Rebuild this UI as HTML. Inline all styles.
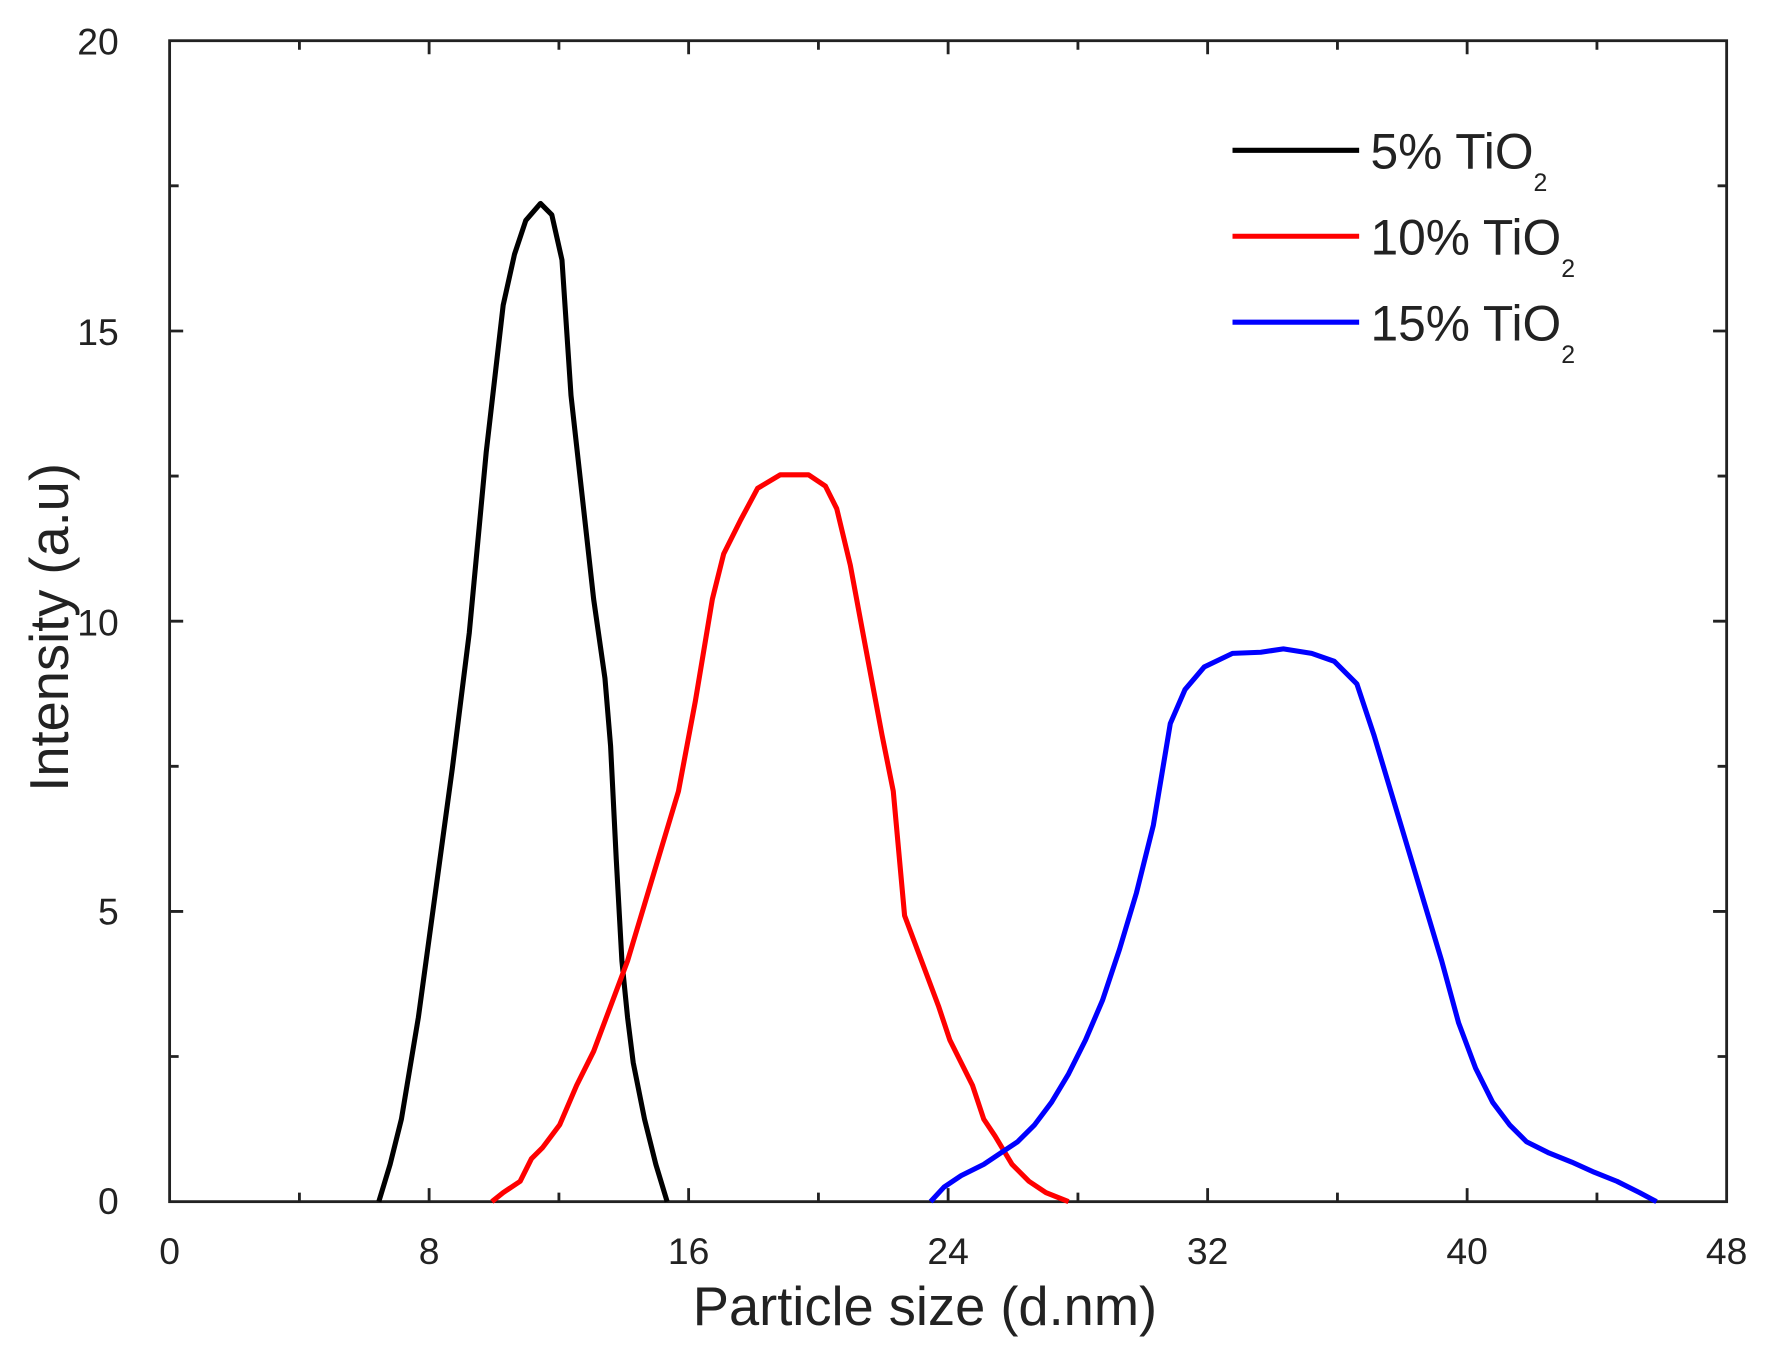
<!DOCTYPE html>
<html><head><meta charset="utf-8"><style>html,body{margin:0;padding:0;background:#fff}svg{display:block}</style></head>
<body>
<svg width="1773" height="1352" viewBox="0 0 1568 1196" preserveAspectRatio="none" xmlns="http://www.w3.org/2000/svg" font-family="Liberation Sans, sans-serif">
<rect width="1568" height="1196" fill="#fff"/>
<g stroke="#222" stroke-width="2.5" fill="none">
<rect x="150" y="36" width="1377" height="1027"/>
<path d="M264.8,1063v-8M379.5,1063v-12M494.3,1063v-8M609,1063v-12M723.8,1063v-8M838.5,1063v-12M953.3,1063v-8M1068,1063v-12M1182.8,1063v-8M1297.5,1063v-12M1412.3,1063v-8
M264.8,36v8M379.5,36v12M494.3,36v8M609,36v12M723.8,36v8M838.5,36v12M953.3,36v8M1068,36v12M1182.8,36v8M1297.5,36v12M1412.3,36v8
M150,934.6h8M150,806.3h12M150,677.9h8M150,549.5h12M150,421.1h8M150,292.8h12M150,164.4h8
M1527,934.6h-8M1527,806.3h-12M1527,677.9h-8M1527,549.5h-12M1527,421.1h-8M1527,292.8h-12M1527,164.4h-8"/>
</g>
<g font-size="33" fill="#222">
<g text-anchor="end"><text x="105" y="1074">0</text><text x="105" y="818">5</text><text x="105" y="562">10</text><text x="105" y="305">15</text><text x="105" y="48">20</text></g>
<g text-anchor="middle"><text x="150" y="1118">0</text><text x="379.5" y="1118">8</text><text x="609" y="1118">16</text><text x="838.5" y="1118">24</text><text x="1068" y="1118">32</text><text x="1297.5" y="1118">40</text><text x="1527" y="1118">48</text></g>
</g>
<text x="818" y="1172" font-size="48" text-anchor="middle" fill="#222">Particle size (d.nm)</text>
<text transform="translate(60,555) rotate(-90)" font-size="48" text-anchor="middle" fill="#222">Intensity (a.u)</text>
<g fill="none" stroke-width="4.5" stroke-linejoin="round">
<polyline stroke="#000" points="335,1063 345,1030 355,990 370,900 385,790 400,680 415,560 430,400 445,270 455,225 465,195 478,180 488,190 497,230 505,350 515,440 525,530 535,600 540,660 545,760 550,850 555,900 560,940 570,990 580,1030 590,1063"/>
<polyline stroke="#f00" points="435,1063 445,1055 460,1045 470,1025 480,1015 495,995 510,960 525,930 540,890 555,850 570,800 585,750 600,700 615,620 630,530 640,490 655,460 670,432 690,420 715,420 730,430 740,450 752,500 765,570 780,650 790,700 800,810 815,850 830,890 840,920 850,940 860,960 870,990 880,1005 895,1030 910,1045 925,1055 945,1063"/>
<polyline stroke="#00f" points="823,1063 835,1050 850,1040 870,1030 885,1020 900,1010 915,995 930,975 945,950 960,920 975,885 990,840 1005,790 1020,730 1035,640 1048,610 1065,590 1090,578 1115,577 1135,574 1160,578 1180,585 1200,605 1215,650 1230,700 1245,750 1260,800 1275,850 1290,905 1305,945 1320,975 1335,995 1350,1010 1370,1020 1390,1028 1410,1037 1430,1045 1450,1055 1465,1063"/>
<path stroke="#000" d="M1090,133H1202"/>
<path stroke="#f00" d="M1090,209H1202"/>
<path stroke="#00f" d="M1090,285H1202"/>
</g>
<g font-size="44" fill="#222">
<text x="1212" y="149">5% TiO<tspan font-size="22" dy="20">2</tspan></text>
<text x="1212" y="225">10% TiO<tspan font-size="22" dy="20">2</tspan></text>
<text x="1212" y="301">15% TiO<tspan font-size="22" dy="20">2</tspan></text>
</g>
</svg>
</body></html>
